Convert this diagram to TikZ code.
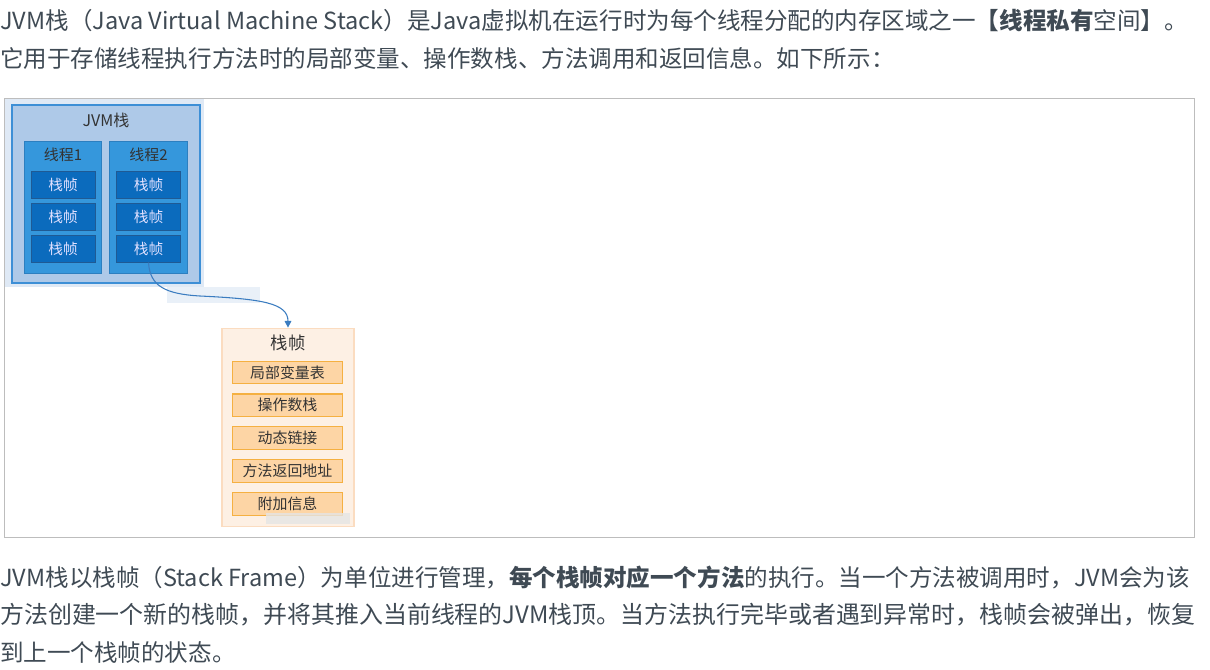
\documentclass[tikz,border=0pt]{standalone}
\usepackage{fontspec}
\setmainfont{Noto Sans CJK SC}
\usepackage{xcolor}
\usepackage{tikz}
\usetikzlibrary{positioning, arrows.meta}

\definecolor{txtgray}{HTML}{3F4A54}
\definecolor{framegray}{HTML}{BDBDBD}
\definecolor{selfill}{HTML}{DFE9F5}
\definecolor{jvmfill}{HTML}{AEC9E8}
\definecolor{jvmline}{HTML}{3D8FD6}
\definecolor{thfill}{HTML}{3597DC}
\definecolor{thline}{HTML}{2C7FC0}
\definecolor{frfill}{HTML}{0B6BBD}
\definecolor{frline}{HTML}{1F5A94}
\definecolor{detfill}{HTML}{FDF0E4}
\definecolor{detline}{HTML}{FBDCC0}
\definecolor{itfill}{HTML}{FDD5A5}
\definecolor{itline}{HTML}{F5B041}
\definecolor{arrowblue}{HTML}{3A7CC0}

\begin{document}
\begin{tikzpicture}[x=0.75pt, y=-0.75pt,
    para/.style={anchor=base west, inner sep=0pt, text=txtgray, font=\fontsize{17.65}{20}\selectfont},
    jvmbox/.style={draw=jvmline, fill=jvmfill, line width=0.8pt, inner sep=0pt, minimum width=141pt, minimum height=133.5pt},
    threadbox/.style={draw=thline, fill=thfill, line width=0.6pt, inner sep=0pt, minimum width=58pt, minimum height=99pt},
    framebox/.style={draw=frline, fill=frfill, line width=0.5pt, inner sep=0pt, minimum width=48pt, minimum height=20pt, text=white!88!blue, font=\fontsize{11}{12}\selectfont},
    detailbox/.style={draw=detline, fill=detfill, line width=0.8pt, inner sep=0pt, minimum width=99pt, minimum height=149pt},
    itembox/.style={draw=itline, fill=itfill, line width=0.8pt, inner sep=0pt, minimum width=83pt, minimum height=17pt, text=black!80, font=\fontsize{11.2}{12}\selectfont},
    title/.style={inner sep=0pt, text=black!80},
    flow/.style={draw=arrowblue, line width=0.8pt, -{Triangle[length=5pt,width=5pt]}}
  ]
  \useasboundingbox (0,0) rectangle (1210,670);

  % text above the picture
  \node[para] (intro1) at (0,30) {JVM栈（Java Virtual Machine Stack）是Java虚拟机在运行时为每个线程分配的内存区域之一\textbf{【线程私有}空间】。};
  \node[para] (intro2) at (0,68) {它用于存储线程执行方法时的局部变量、操作数栈、方法调用和返回信息。如下所示：};

  % the picture frame
  \draw[framegray, line width=0.9pt] (4.5,98.5) rectangle (1194.5,537.5);
  \fill[selfill] (5,99) rectangle (204,287);
  \fill[selfill!70!white] (167,287) rectangle (260,303);

  % JVM stack with its threads
  \node[jvmbox] (jvm) at (106,194) {};
  \node[title, font=\fontsize{12}{13}\selectfont] (jvmtitle) at (106,120) {JVM栈};

  \foreach \x/\n in {63/1,148.5/2} {
      \node[threadbox] (t\n) at (\x,207) {};
      \node[title, font=\fontsize{11.2}{12}\selectfont] (t\n title) at (\x,155) {线程\n};
      \foreach \j in {1,2,3} {
          \node[framebox] (f\n\j) at (\x,{185+32*(\j-1)}) {栈帧};
      }
  }

  % one frame in detail
  \node[detailbox] (detail) at (288,427.5) {};
  \node[title, font=\fontsize{13}{14}\selectfont] (dettitle) at (288,343) {栈帧};
  \foreach \t [count=\i] in {局部变量表,操作数栈,动态链接,方法返回地址,附加信息} {
      \node[itembox] (item\i) at (287.5,{372.5+32.8*(\i-1)}) {\t};
  }
  \fill[black!10, opacity=0.8] (266,513) rectangle (350,524);

  \draw[flow] (f23.south) .. controls (150,286) and (165,294) .. (200,296)
      .. controls (262,299) and (288,303) .. (detail.north);

  % text below the picture
  \node[para] (outro1) at (0,586) {JVM栈以栈帧（Stack Frame）为单位进行管理，\textbf{每个栈帧对应一个方法}的执行。当一个方法被调用时，JVM会为该};
  \node[para, font=\fontsize{17.95}{20}\selectfont] (outro2) at (0,623) {方法创建一个新的栈帧，并将其推入当前线程的JVM栈顶。当方法执行完毕或者遇到异常时，栈帧会被弹出，恢复};
  \node[para] (outro3) at (0,661) {到上一个栈帧的状态。};
\end{tikzpicture}
\end{document}
